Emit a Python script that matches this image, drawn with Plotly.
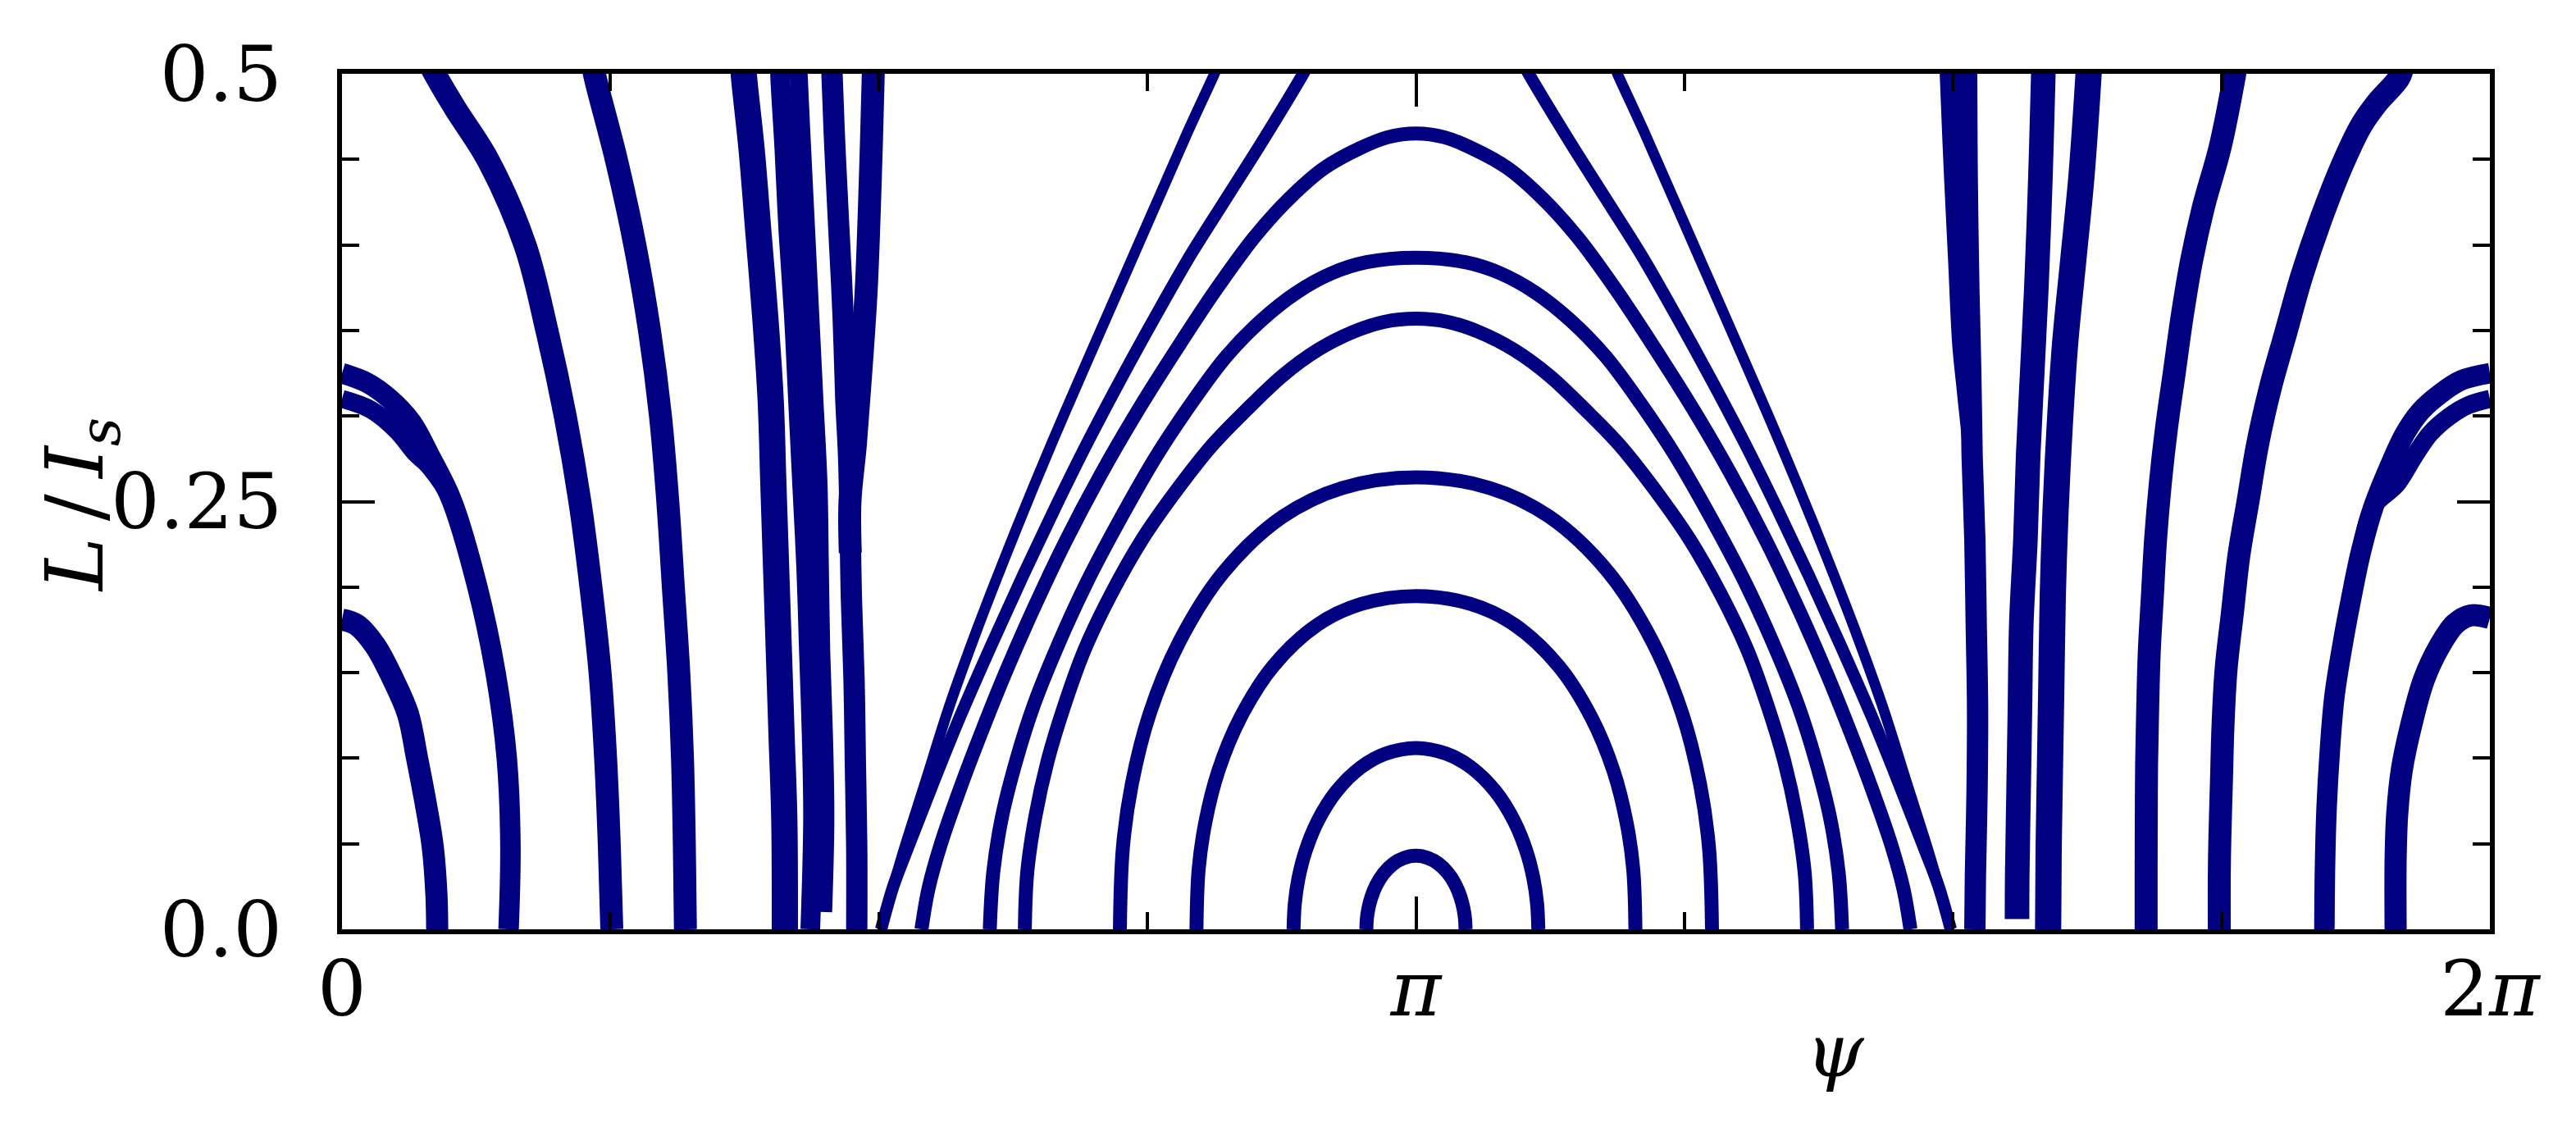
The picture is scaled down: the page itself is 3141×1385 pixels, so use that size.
import math
import plotly.graph_objects as go

# ---------------- data ----------------
# closed orbits around psi = pi
arch1_psi = [2.9966, 2.9980, 3.0024, 3.0111, 3.0256, 3.0473, 3.0763, 3.1053, 3.1416, 3.1779, 3.2069, 3.2359, 3.2576, 3.2721, 3.2808, 3.2852, 3.2866]
arch1_L = [0, 0.0061, 0.0120, 0.0187, 0.0258, 0.0327, 0.0384, 0.0416, 0.043, 0.0416, 0.0384, 0.0327, 0.0258, 0.0187, 0.0120, 0.0061, 0]

arch2_psi = [2.7836, 2.7872, 2.7979, 2.8194, 2.8552, 2.9089, 2.9805, 3.0521, 3.1416, 3.2311, 3.3027, 3.3743, 3.4280, 3.4638, 3.4853, 3.4960, 3.4996]
arch2_L = [0, 0.0149, 0.0297, 0.0462, 0.0636, 0.0806, 0.0947, 0.1026, 0.106, 0.1026, 0.0947, 0.0806, 0.0636, 0.0462, 0.0297, 0.0149, 0]

arch3_psi = [2.4996, 2.5060, 2.5253, 2.5638, 2.6280, 2.7243, 2.8527, 2.9811, 3.1416, 3.3021, 3.4305, 3.5589, 3.6552, 3.7194, 3.7579, 3.7772, 3.7836]
arch3_L = [0, 0.0351, 0.0623, 0.0927, 0.1237, 0.1539, 0.1779, 0.1901, 0.1948, 0.1901, 0.1779, 0.1539, 0.1237, 0.0927, 0.0623, 0.0351, 0]

arch4_psi = [2.2756, 2.2843, 2.3102, 2.3622, 2.4488, 2.5787, 2.7519, 2.9251, 3.1416, 3.3581, 3.5313, 3.7045, 3.8344, 3.9210, 3.9730, 3.9989, 4.0076]
arch4_L = [0, 0.0476, 0.0845, 0.1258, 0.1678, 0.2087, 0.2412, 0.2579, 0.2642, 0.2579, 0.2412, 0.2087, 0.1678, 0.1258, 0.0845, 0.0476, 0]

arch5_psi = [1.9975, 2.0046, 2.0282, 2.0641, 2.1102, 2.1717, 2.2486, 2.3409, 2.4434, 2.5459, 2.6484, 2.7509, 2.8534, 2.9559, 3.0482, 3.1416,
             3.2350, 3.3273, 3.4298, 3.5323, 3.6348, 3.7373, 3.8398, 3.9423, 4.0346, 4.1115, 4.1730, 4.2191, 4.2550, 4.2786, 4.2857]
arch5_L = [0, 0.0334, 0.0658, 0.0983, 0.1290, 0.1631, 0.1954, 0.2279, 0.2571, 0.2830, 0.3041, 0.3235, 0.3385, 0.3490, 0.3550, 0.3569,
           0.3550, 0.3490, 0.3385, 0.3235, 0.3041, 0.2830, 0.2571, 0.2279, 0.1954, 0.1631, 0.1290, 0.0983, 0.0658, 0.0334, 0]

arch6_psi = [1.8950, 1.9052, 1.9308, 1.9718, 2.0231, 2.0949, 2.1769, 2.2794, 2.3819, 2.4844, 2.5869, 2.6894, 2.7919, 2.8944, 2.9969, 3.1416,
             3.2863, 3.3888, 3.4913, 3.5938, 3.6963, 3.7988, 3.9013, 4.0038, 4.1063, 4.1883, 4.2601, 4.3114, 4.3524, 4.3780, 4.3882]
arch6_L = [0, 0.0334, 0.0658, 0.0983, 0.1307, 0.1663, 0.2020, 0.2408, 0.2765, 0.3073, 0.3348, 0.3559, 0.3721, 0.3834, 0.3899, 0.3925,
           0.3899, 0.3834, 0.3721, 0.3559, 0.3348, 0.3073, 0.2765, 0.2408, 0.2020, 0.1663, 0.1307, 0.0983, 0.0658, 0.0334, 0]

arch7_psi = [1.6951, 1.7156, 1.7515, 1.8078, 1.8693, 1.9411, 2.0231, 2.1154, 2.2179, 2.3306, 2.4434, 2.5561, 2.6689, 2.7714, 2.8739, 2.9764, 3.0584, 3.1416,
             3.2248, 3.3068, 3.4093, 3.5118, 3.6143, 3.7271, 3.8398, 3.9526, 4.0653, 4.1678, 4.2601, 4.3421, 4.4139, 4.4754, 4.5317, 4.5676, 4.5881]
arch7_L = [0, 0.0237, 0.0496, 0.0821, 0.1145, 0.1501, 0.1874, 0.2263, 0.2652, 0.3040, 0.3397, 0.3737, 0.4045, 0.4272, 0.4450, 0.4564, 0.4629, 0.4651,
           0.4629, 0.4564, 0.4450, 0.4272, 0.4045, 0.3737, 0.3397, 0.3040, 0.2652, 0.2263, 0.1874, 0.1501, 0.1145, 0.0821, 0.0496, 0.0237, 0]

# open orbits leaving through the top
open1_left_psi = [1.5772, 1.6387, 1.7053, 1.7771, 1.8591, 1.9411, 2.0231, 2.1154, 2.2076, 2.2999, 2.3921, 2.4741, 2.5510, 2.5650]
open1_left_L = [0, 0.0431, 0.0852, 0.1306, 0.1760, 0.2182, 0.2587, 0.3024, 0.3446, 0.3867, 0.4288, 0.4661, 0.4995, 0.5060]
open2_left_psi = [1.5772, 1.6131, 1.6592, 1.7258, 1.8078, 1.9001, 1.9923, 2.0846, 2.1769, 2.2794, 2.3819, 2.4844, 2.5869, 2.6894, 2.8073, 2.8200]
open2_left_L = [0, 0.0253, 0.0496, 0.0837, 0.1242, 0.1663, 0.2068, 0.2457, 0.2830, 0.3219, 0.3591, 0.3948, 0.4272, 0.4596, 0.4985, 0.5030]
open1_right_psi = [4.7060, 4.6445, 4.5779, 4.5061, 4.4241, 4.3421, 4.2601, 4.1678, 4.0756, 3.9833, 3.8911, 3.8091, 3.7322, 3.7182]
open1_right_L = [0, 0.0431, 0.0852, 0.1306, 0.1760, 0.2182, 0.2587, 0.3024, 0.3446, 0.3867, 0.4288, 0.4661, 0.4995, 0.5060]
open2_right_psi = [4.7060, 4.6701, 4.6240, 4.5574, 4.4754, 4.3831, 4.2909, 4.1986, 4.1063, 4.0038, 3.9013, 3.7988, 3.6963, 3.5938, 3.4759, 3.4632]
open2_right_L = [0, 0.0253, 0.0496, 0.0837, 0.1242, 0.1663, 0.2068, 0.2457, 0.2830, 0.3219, 0.3591, 0.3948, 0.4272, 0.4596, 0.4985, 0.5030]

# thick (noisy) trajectories on the left side
left1_psi = [0.0, 0.0428, 0.0964, 0.1499, 0.1928, 0.2196, 0.2463, 0.2656, 0.2763, 0.2785]
left1_L = [0.181, 0.178, 0.166, 0.146, 0.126, 0.100, 0.072, 0.048, 0.020, 0]
left2a_psi = [0.0, 0.0750, 0.1392, 0.2035, 0.2570, 0.3213, 0.3963, 0.4498, 0.4820, 0.4927, 0.4873]
left2a_L = [0.325, 0.3193, 0.3101, 0.2963, 0.2767, 0.2505, 0.1999, 0.1492, 0.1001, 0.0494, 0]
left2b_psi = [0.0, 0.0857, 0.1607, 0.2142, 0.2570, 0.3213, 0.3963]
left2b_L = [0.310, 0.3036, 0.2914, 0.2784, 0.2702, 0.2505, 0.1999]
left3_psi = [0.245, 0.2785, 0.3320, 0.4284, 0.5355, 0.5998, 0.6533, 0.6962, 0.7283, 0.7550, 0.7711, 0.7818, 0.7893]
left3_L = [0.51, 0.4975, 0.4795, 0.4492, 0.3999, 0.3497, 0.2997, 0.2496, 0.1999, 0.1498, 0.1001, 0.0500, 0]
left4_psi = [0.728, 0.7411, 0.8033, 0.8568, 0.8997, 0.9318, 0.9532, 0.9693, 0.9853, 0.9960, 1.0014, 1.0046]
left4_L = [0.51, 0.4975, 0.4492, 0.3999, 0.3497, 0.2996, 0.2496, 0.1999, 0.1498, 0.1001, 0.0500, 0]
mid1_psi = [1.172, 1.1763, 1.1979, 1.2180, 1.2379, 1.2540, 1.2619, 1.2699, 1.2780, 1.2859, 1.2939, 1.2955]
mid1_L = [0.51, 0.4975, 0.4566, 0.4076, 0.3585, 0.3094, 0.2604, 0.2113, 0.1622, 0.1132, 0.0641, 0]
mid2_psi = [1.280, 1.2819, 1.2939, 1.3059, 1.3219, 1.3339, 1.3459, 1.3579, 1.3659, 1.3739, 1.3779, 1.3699]
mid2_L = [0.51, 0.4975, 0.4566, 0.4076, 0.3585, 0.3094, 0.2604, 0.2113, 0.1622, 0.1132, 0.0641, 0]
mid3_psi = [1.335, 1.3363, 1.3459, 1.3579, 1.3699, 1.3819, 1.3939, 1.3979, 1.4019, 1.4099, 1.4139, 1.4075]
mid3_L = [0.51, 0.4975, 0.4566, 0.4076, 0.3585, 0.3094, 0.2604, 0.2113, 0.1622, 0.1132, 0.0641, 0.0101]
mid4_psi = [1.432, 1.4339, 1.4419, 1.4539, 1.4659, 1.4739, 1.4819, 1.4859, 1.4899, 1.4979, 1.5018, 1.5058, 1.5058]
mid4_L = [0.51, 0.4975, 0.4566, 0.4076, 0.3585, 0.3094, 0.2767, 0.2440, 0.1950, 0.1459, 0.0968, 0.0478, 0]
mid5_psi = [1.555, 1.5538, 1.5458, 1.5338, 1.5178, 1.5018, 1.4860, 1.4870]
mid5_L = [0.51, 0.4975, 0.4403, 0.3749, 0.3258, 0.2833, 0.2500, 0.2200]

# thick (noisy) trajectories on the right side
rmid1_psi = [4.699, 4.7006, 4.7126, 4.7246, 4.7366, 4.7500, 4.7686, 4.7766, 4.7806]
rmid1_L = [0.51, 0.4975, 0.4403, 0.3912, 0.3421, 0.3150, 0.2767, 0.2277, 0.1786]
rmid2_psi = [4.752, 4.7526, 4.7542, 4.7590, 4.7646, 4.7686, 4.7766, 4.7806, 4.7845, 4.7830, 4.7782, 4.7766]
rmid2_L = [0.51, 0.4975, 0.4403, 0.3749, 0.3258, 0.2767, 0.2277, 0.1786, 0.1295, 0.0805, 0.0314, 0]
rmid3_psi = [4.978, 4.9765, 4.9685, 4.9565, 4.9445, 4.9325, 4.9245, 4.9125, 4.9085, 4.9045, 4.9005, 4.9000]
rmid3_L = [0.51, 0.4975, 0.4403, 0.3749, 0.3258, 0.2767, 0.2277, 0.1786, 0.1295, 0.0805, 0.0314, 0.006]
rmid4_psi = [5.112, 5.1085, 5.0885, 5.0645, 5.0405, 5.0245, 5.0125, 5.0045, 5.0005, 4.9965, 4.9925, 4.9909]
rmid4_L = [0.51, 0.4975, 0.4403, 0.3912, 0.3421, 0.2931, 0.2440, 0.1950, 0.1459, 0.0968, 0.0478, 0]
right4_psi = [5.545, 5.5347, 5.4934, 5.4475, 5.4108, 5.3832, 5.3603, 5.3373, 5.3190, 5.3052, 5.2960, 5.2868, 5.2822, 5.2790, 5.2780, 5.2776, 5.2776]
right4_L = [0.51, 0.4975, 0.4566, 0.4239, 0.3912, 0.3585, 0.3258, 0.2931, 0.2604, 0.2277, 0.1950, 0.1622, 0.1295, 0.0968, 0.0641, 0.0314, 0]
right3_psi = [6.030, 6.0167, 5.9524, 5.9065, 5.8515, 5.7872, 5.7321, 5.6862, 5.6403, 5.6036, 5.5760, 5.5485, 5.5301, 5.5117, 5.5026, 5.4980, 5.4934, 5.4916, 5.4916]
right3_L = [0.505, 0.4975, 0.4828, 0.4697, 0.4468, 0.4141, 0.3814, 0.3487, 0.3160, 0.2833, 0.2506, 0.2178, 0.1851, 0.1524, 0.1197, 0.0870, 0.0543, 0.0314, 0]
right2a_psi = [6.2832, 6.2003, 6.1361, 6.0810, 6.0351, 5.9892, 5.9433, 5.9065, 5.8790, 5.8515, 5.8285, 5.8147, 5.8055, 5.8010, 5.7991]
right2a_L = [0.325, 0.3209, 0.3127, 0.3029, 0.2898, 0.2702, 0.2473, 0.2211, 0.1950, 0.1655, 0.1361, 0.1034, 0.0707, 0.0379, 0]
right2b_psi = [6.2832, 6.2187, 6.1636, 6.1085, 6.0626, 6.0100, 5.9433, 5.9065]
right2b_L = [0.310, 0.3062, 0.2996, 0.2898, 0.2767, 0.2600, 0.2473, 0.2211]
right1_psi = [6.2832, 6.2279, 6.1820, 6.1361, 6.0902, 6.0535, 6.0259, 6.0121, 6.0075, 6.0075]
right1_L = [0.182, 0.1835, 0.1786, 0.1655, 0.1459, 0.1197, 0.0936, 0.0674, 0.0412, 0]

# axis ticks
x_tick_vals = [0, math.pi, 2 * math.pi]
x_tick_text = ['0', '<i>π</i>', '2<i>π</i>']
x_minor_vals = [k * math.pi / 4 for k in range(9)]
y_tick_vals = [0, 0.25, 0.5]
y_tick_text = ['0.0', '0.25', '0.5']
y_minor_vals = [k * 0.05 for k in range(11)]

# ---------------- styling ----------------
NAVY = '#000080'
FONT = 'DejaVu Serif'

series = [
    (arch1_psi, arch1_L, 17), (arch2_psi, arch2_L, 17), (arch3_psi, arch3_L, 17),
    (arch4_psi, arch4_L, 17), (arch5_psi, arch5_L, 17), (arch6_psi, arch6_L, 17),
    (arch7_psi, arch7_L, 17),
    (open1_left_psi, open1_left_L, 13), (open2_left_psi, open2_left_L, 15),
    (open1_right_psi, open1_right_L, 13), (open2_right_psi, open2_right_L, 15),
    (left1_psi, left1_L, 27), (left2a_psi, left2a_L, 25), (left2b_psi, left2b_L, 22),
    (left3_psi, left3_L, 28), (left4_psi, left4_L, 28),
    (mid1_psi, mid1_L, 32), (mid2_psi, mid2_L, 24), (mid3_psi, mid3_L, 22),
    (mid4_psi, mid4_L, 26), (mid5_psi, mid5_L, 28),
    (rmid1_psi, rmid1_L, 22), (rmid2_psi, rmid2_L, 26), (rmid3_psi, rmid3_L, 30),
    (rmid4_psi, rmid4_L, 32), (right4_psi, right4_L, 28), (right3_psi, right3_L, 28),
    (right2a_psi, right2a_L, 25), (right2b_psi, right2b_L, 22), (right1_psi, right1_L, 27),
]

fig = go.Figure()
for xs, ys, w in series:
    fig.add_trace(go.Scatter(
        x=xs, y=ys, mode='lines',
        line=dict(color=NAVY, width=w, shape='spline', smoothing=1.0),
        hoverinfo='skip', showlegend=False,
    ))

axis_common = dict(
    showgrid=False, zeroline=False, showline=True, linecolor='black', linewidth=6,
    mirror='ticks', ticks='inside', ticklen=40, tickwidth=4, tickcolor='black',
    tickfont=dict(family=FONT, size=94, color='black'),
)

fig.update_layout(
    width=3141, height=1385,
    margin=dict(l=409, r=113, t=82, b=260),
    paper_bgcolor='white', plot_bgcolor='white',
    xaxis=dict(range=[0, 2 * math.pi], tickmode='array', tickvals=x_tick_vals, ticktext=x_tick_text,
               ticklabelstandoff=-14,
               minor=dict(tickmode='array', tickvals=x_minor_vals, ticks='inside', ticklen=21,
                          tickwidth=4, tickcolor='black', showgrid=False),
               **axis_common),
    yaxis=dict(range=[0, 0.5], tickmode='array', tickvals=y_tick_vals, ticktext=y_tick_text,
               ticklabelstandoff=48,
               minor=dict(tickmode='array', tickvals=y_minor_vals, ticks='inside', ticklen=21,
                          tickwidth=4, tickcolor='black', showgrid=False),
               **axis_common),
    annotations=[
        dict(text='<i>L</i>\u2009/\u2009<i>I</i><sub><i>s</i></sub>', xref='paper', yref='paper',
             x=(90 - 409) / 2619, y=(1125 - 608) / 1043, showarrow=False, textangle=-90,
             font=dict(family=FONT, size=98, color='black'), xanchor='center', yanchor='middle'),
        dict(text='<i>ψ</i>', xref='paper', yref='paper',
             x=(2230 - 409) / 2619, y=(1125 - 1272) / 1043, showarrow=False,
             font=dict(family=FONT, size=90, color='black'), xanchor='center', yanchor='middle'),
    ],
)

fig.write_html('out.html')
